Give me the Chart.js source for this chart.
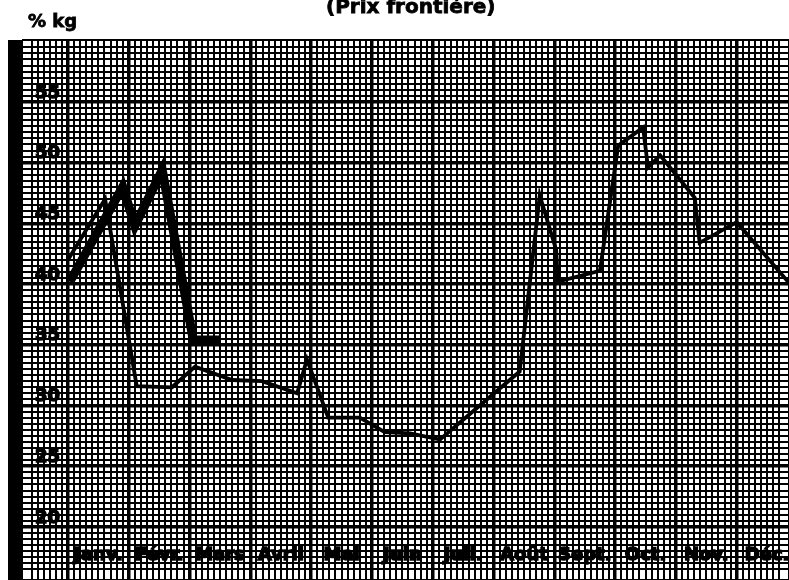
<!DOCTYPE html>
<html>
<head>
<meta charset="utf-8">
<script src="https://cdn.jsdelivr.net/npm/chart.js@4.4.1/dist/chart.umd.min.js"></script>
<style>
  html, body { margin: 0; padding: 0; background: #fff; }
  #wrap { position: relative; width: 789px; height: 580px; overflow: hidden; font-family: 'DejaVu Sans', sans-serif; font-weight: bold; color: #000; }
  #chart { position: absolute; left: 0; top: 0; }
  #bar { position: absolute; left: 8px; top: 40px; width: 14px; height: 540px; background: #000; }
  #title { position: absolute; left: 326px; top: -4px; font-size: 20px; line-height: 20px; white-space: nowrap; -webkit-text-stroke: 0.8px #000; }
  #unit { position: absolute; left: 28px; top: 12px; font-size: 18px; line-height: 18px; white-space: nowrap; -webkit-text-stroke: 0.8px #000; }
</style>
</head>
<body>
<div id="wrap">
  <canvas id="chart" width="789" height="580"></canvas>
  <div id="bar"></div>
  <div id="title">(Prix frontière)</div>
  <div id="unit">% kg</div>
</div>
<script>
// months shown under the columns, x is counted in months from 1 Jan
var monthLabels = ['Janv.', 'Févr.', 'Mars', 'Avril', 'Mai', 'Juin', 'Juil.', 'Août', 'Sept.', 'Oct.', 'Nov.', 'Déc.'];
var yTickLabels = [20, 25, 30, 35, 40, 45, 50, 55];

// thin line (whole year)
var fineMonths = [0, 0.61, 1.13, 1.71, 2.09, 2.70, 3.19, 3.77, 3.93, 4.28, 4.80, 5.21, 5.63, 6.12, 7.43, 7.76, 8.03, 8.06, 8.75, 9.05, 9.46, 9.54, 9.74, 10.31, 10.39, 11.0, 11.86];
var fineValues = [42.0, 47.0, 31.6, 31.5, 33.2, 32.1, 32.0, 31.0, 33.8, 29.0, 29.0, 27.8, 27.7, 27.2, 32.8, 47.3, 42.8, 40.2, 41.1, 51.4, 52.9, 49.6, 50.6, 47.1, 43.4, 45.1, 40.1];

// heavy line (Janv. - Mars only)
var heavyMonths = [0.03, 0.90, 1.10, 1.55, 2.06, 2.50];
var heavyValues = [40.2, 48.0, 44.8, 49.4, 35.4, 35.4];

function toPoints(xs, ys) {
    var pts = [];
    for (var i = 0; i < xs.length; i++) {
        pts.push({x: xs[i], y: ys[i]});
    }
    return pts;
}

function isWhole(v, step) {
    var r = v / step;
    return Math.abs(r - Math.round(r)) < 0.001;
}

// axes sit inside the paper, so they must not eat into the plot area
function noPadding(scale) {
    scale.paddingTop = 0;
    scale.paddingBottom = 0;
    scale.paddingLeft = 0;
    scale.paddingRight = 0;
}

var tickFont = {family: 'DejaVu Sans', size: 18, weight: 'bold'};

var ctx = document.getElementById('chart').getContext('2d');
var myChart = new Chart(ctx, {
    type: 'line',
    data: {
        datasets: [{
            label: 'fine',
            data: toPoints(fineMonths, fineValues),
            borderColor: '#000',
            borderWidth: 3.8,
            pointRadius: 0,
            tension: 0
        }, {
            label: 'heavy',
            data: toPoints(heavyMonths, heavyValues),
            borderColor: '#000',
            borderWidth: 9,
            borderJoinStyle: 'miter',
            pointRadius: 0,
            tension: 0
        }]
    },
    options: {
        responsive: false,
        animation: false,
        devicePixelRatio: 1,
        layout: { padding: {left: 22, top: 40, right: 0, bottom: 0}, autoPadding: false },
        plugins: { legend: {display: false}, tooltip: {enabled: false} },
        scales: {
            x: {
                type: 'linear',
                min: -0.757,
                max: 11.86,
                position: {y: 19.3},
                afterFit: noPadding,
                border: {display: false},
                grid: {
                    color: '#000',
                    drawTicks: false,
                    lineWidth: function (c) { return isWhole(c.tick.value, 1) ? 3.5 : 2; }
                },
                ticks: {
                    stepSize: 0.1,
                    autoSkip: false,
                    maxRotation: 0,
                    padding: 9,
                    color: '#000',
                    textStrokeColor: '#000',
                    textStrokeWidth: 1.5,
                    font: tickFont,
                    callback: function (v) {
                        var k = v - 0.5;
                        if (isWhole(k, 1) && k >= 0 && k < monthLabels.length) return monthLabels[Math.round(k)];
                        return '';
                    }
                }
            },
            y: {
                type: 'linear',
                min: 15.63,
                max: 60.1,
                position: {x: -0.13},
                afterFit: noPadding,
                border: {display: false},
                grid: {
                    color: '#000',
                    drawTicks: false,
                    lineWidth: function (c) { return isWhole(c.tick.value, 5) ? 3.5 : 2; }
                },
                ticks: {
                    stepSize: 0.5,
                    autoSkip: false,
                    padding: 0,
                    labelOffset: -9,
                    color: '#000',
                    textStrokeColor: '#000',
                    textStrokeWidth: 1.5,
                    font: tickFont,
                    callback: function (v) {
                        for (var i = 0; i < yTickLabels.length; i++) {
                            if (Math.abs(v - yTickLabels[i]) < 0.001) return String(yTickLabels[i]);
                        }
                        return '';
                    }
                }
            }
        }
    }
});
</script>
</body>
</html>
